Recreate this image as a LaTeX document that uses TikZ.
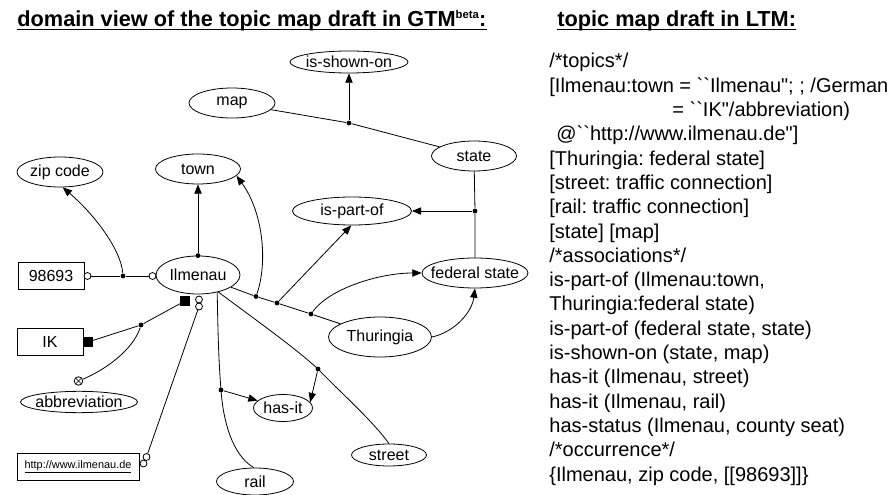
\documentclass[tikz,border=0pt]{standalone}
\usepackage{fontspec}
\setmainfont{Liberation Sans}[Ligatures=TeXOff]
\usetikzlibrary{shapes.geometric,arrows.meta}
\frenchspacing
\begin{document}
\begin{tikzpicture}[x=0.75pt,y=-0.75pt,line width=0.6pt,
  lab/.style={font=\fontsize{12}{14}\selectfont,inner sep=0pt},
  ell/.style={ellipse,draw,inner sep=0pt},
  box/.style={rectangle,draw,inner sep=0pt,font=\fontsize{12}{14}\selectfont},
  jdot/.style={circle,fill,inner sep=0pt,minimum size=3.6pt},
  ocirc/.style={circle,draw,fill=white,inner sep=0pt,minimum size=5.2pt},
  fsq/.style={rectangle,fill,inner sep=0pt,minimum size=7pt},
  xcirc/.style={circle,draw,inner sep=0pt,minimum size=6.4pt,
    path picture={\draw[line width=0.5pt] (path picture bounding box.north west) -- (path picture bounding box.south east)
      (path picture bounding box.north east) -- (path picture bounding box.south west);}},
  arr/.style={-{Triangle[length=7pt,width=5.5pt]}},
  title/.style={font=\fontsize{16.3}{19}\selectfont\bfseries,inner sep=0pt,anchor=base west},
  ltm/.style={font=\fontsize{15}{18}\selectfont,inner sep=0pt,anchor=base west},
  uline/.style={line width=0.9pt}
]
\useasboundingbox (0,0) rectangle (893,495);

% titles
\node[title] (t1) at (17,27) {domain view of the topic map draft in GTM\raisebox{6.5pt}{\fontsize{8.5}{9}\selectfont beta}:};
\draw[uline] ([yshift=-2pt]t1.base west) -- ([yshift=-2pt]t1.base east);
\node[title] (t2) at (557,27) {topic map draft in LTM:};
\draw[uline] ([yshift=-2pt]t2.base west) -- ([yshift=-2pt]t2.base east);

% topic nodes
\node[ell,minimum width=88.5pt,minimum height=16.5pt,label={[lab]center:is-shown-on}] (isshown) at (349,62) {};
\node[ell,minimum width=64.5pt,minimum height=22.5pt,label={[lab]center:map}] (map) at (232,103) {};
\node[ell,minimum width=63.75pt,minimum height=22.5pt,label={[lab]center:state}] (state) at (474,156) {};
\node[ell,minimum width=89.25pt,minimum height=21pt,label={[lab]center:is-part-of}] (ispartof) at (352,211) {};
\node[ell,minimum width=63.75pt,minimum height=22.5pt,label={[lab]center:town}] (town) at (198,169) {};
\node[ell,minimum width=64.5pt,minimum height=22.5pt,label={[lab]center:zip code}] (zipcode) at (60,172) {};
\node[ell,minimum width=63pt,minimum height=28.5pt,label={[lab]center:Ilmenau}] (ilmenau) at (198,275) {};
\node[ell,minimum width=87.75pt,minimum height=16pt,label={[lab]center:abbreviation}] (abbrev) at (79,402) {};
\node[ell,minimum width=57.75pt,minimum height=20.25pt,label={[lab]center:rail}] (rail) at (255,481.5) {};
\node[ell,minimum width=44.25pt,minimum height=20.25pt,label={[lab]center:has-it}] (hasit) at (283,408) {};
\node[ell,minimum width=56.25pt,minimum height=16.5pt,label={[lab]center:street}] (street) at (389,455) {};
\node[ell,minimum width=77.25pt,minimum height=30pt,label={[lab]center:Thuringia}] (thuringia) at (380,337) {};
\node[ell,minimum width=79.5pt,minimum height=22.5pt,label={[lab]center:federal state}] (fedstate) at (475,273) {};

\node[box,minimum width=49.5pt,minimum height=20.25pt] (b98693) at (51,276) {98693};
\node[box,minimum width=49.5pt,minimum height=20.25pt] (bIK) at (50,342) {IK};
\node[box,minimum width=91.5pt,minimum height=20.25pt,font=\fontsize{8.2}{10}\selectfont] (url) at (78,467) {\underline{http://www.ilmenau.de}};

% junctions
\node[jdot] (J1) at (349,123) {};
\node[jdot] (J2) at (475,211) {};
\node[jdot] (J3) at (256,296.5) {};
\node[jdot] (J4) at (277,303) {};
\node[jdot] (J5) at (311,314) {};
\node[jdot] (J6) at (ilmenau.north) {};
\node[jdot] (J7) at (123,276) {};
\node[jdot] (J8) at (141,325) {};
\node[jdot] (J9) at (221,390) {};
\node[jdot] (J10) at (318,369) {};

% end marks
\node[ocirc] (c98) at (87.5,276) {};
\node[ocirc] (cIl) at (152.5,276) {};
\node[ocirc] (cU1) at (199,299.5) {};
\node[ocirc] (cU2) at (199,306.5) {};
\node[ocirc] (cW1) at (146.5,457) {};
\node[ocirc] (cW2) at (143.5,463.5) {};
\node[fsq] (sqIK) at (88,342) {};
\node[fsq] (sqIl) at (185,301) {};
\node[xcirc] (xc) at (78.5,381) {};

% connectors
\draw (map) -- (J1) -- (state);
\draw[arr] (J1) -- (isshown);
\draw (state) -- (J2) -- (fedstate);
\draw[arr] (J2) -- (ispartof);
\draw (ilmenau) -- (J3) -- (J4) -- (J5) -- (thuringia);
\draw[arr] (J3) .. controls (268,262) and (263,212) .. (town.-10);
\draw[arr] (J4) -- (ispartof.-93);
\draw[arr] (J5) .. controls (330,288) and (380,273) .. (fedstate.west);
\draw[arr] (thuringia.east) .. controls (455,332) and (472,312) .. (fedstate.south);
\draw[arr] (J6) -- (town);
\draw (c98) -- (J7) -- (cIl);
\draw[arr] (J7) .. controls (121,250) and (95,215) .. (zipcode.-80);
\draw (sqIK) -- (J8) -- (sqIl);
\draw (J8) .. controls (133,350) and (105,370) .. (xc);
\draw (cU2) -- (cW1);
\draw (ilmenau.-42) .. controls (218,340) and (219,365) .. (J9.center) .. controls (223,420) and (232,455) .. (rail.95);
\draw[arr] (J9) -- (hasit);
\draw (ilmenau.-40) .. controls (260,323) and (295,348) .. (J10.center) .. controls (340,392) and (372,420) .. (street.north);
\draw[arr] (J10) -- (hasit.12);

% LTM listing
\node[ltm] (l1) at (549,68) {/*topics*/};
\node[ltm] (l2) at (549,92.3) {[Ilmenau:town = ``Ilmenau"; ; /German};
\node[ltm] (l3) at (672,116.6) {= ``IK"/abbreviation)};
\node[ltm] (l4) at (556,140.9) {@``http://www.ilmenau.de"]};
\node[ltm] (l5) at (549,165.2) {[Thuringia: federal state]};
\node[ltm] (l6) at (549,189.5) {[street: traffic connection]};
\node[ltm] (l7) at (549,213.8) {[rail: traffic connection]};
\node[ltm] (l8) at (549,238.1) {[state] [map]};
\node[ltm] (l9) at (549,262.4) {/*associations*/};
\node[ltm] (l10) at (549,286.7) {is-part-of (Ilmenau:town,};
\node[ltm] (l11) at (549,311) {Thuringia:federal state)};
\node[ltm] (l12) at (549,335.3) {is-part-of (federal state, state)};
\node[ltm] (l13) at (549,359.6) {is-shown-on (state, map)};
\node[ltm] (l14) at (549,383.9) {has-it (Ilmenau, street)};
\node[ltm] (l15) at (549,408.2) {has-it (Ilmenau, rail)};
\node[ltm] (l16) at (549,432.5) {has-status (Ilmenau, county seat)};
\node[ltm] (l17) at (549,456.8) {/*occurrence*/};
\node[ltm] (l18) at (549,481) {\{Ilmenau, zip code, [[98693]]\}};
\end{tikzpicture}
\end{document}
